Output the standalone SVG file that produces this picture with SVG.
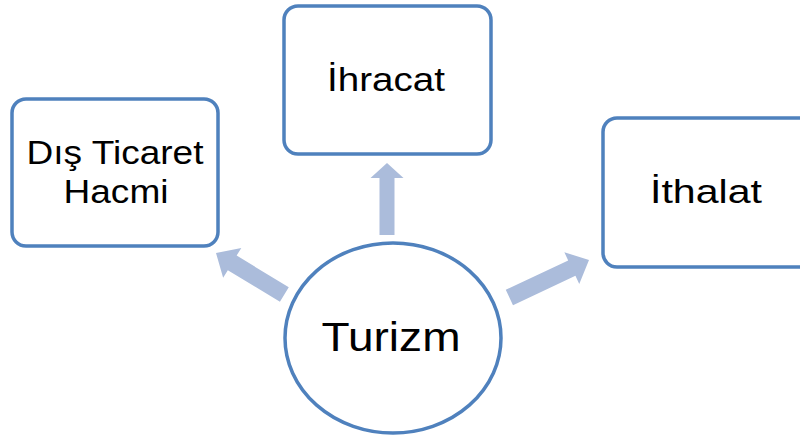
<svg xmlns="http://www.w3.org/2000/svg" width="800" height="441" viewBox="0 0 800 441">
<style>
.box{fill:#fff;stroke:#4f81bd;stroke-width:3.5}
.lbl{font-family:"Liberation Sans",Arial,sans-serif;fill:#000;text-anchor:middle}
.arr{fill:#abbcdb}
</style>
<rect width="800" height="441" fill="#fff"/>
<g id="connectors">
<polygon class="arr" transform="translate(387,163)" points="0,0 16.5,15 7.5,15 7.5,72 -7.5,72 -7.5,15 -16.5,15"/>
<polygon class="arr" transform="translate(216,253) rotate(-58.7)" points="0,0 17.5,19 8.5,19 8.5,80 -8.5,80 -8.5,19 -17.5,19"/>
<polygon class="arr" transform="translate(589,260) rotate(64.8)" points="0,0 17.5,19 8.5,19 8.5,88 -8.5,88 -8.5,19 -17.5,19"/>
</g>
<g id="dis-ticaret">
<rect class="box" x="12" y="99" width="206" height="147" rx="14"/>
<text class="lbl" x="115" y="164" font-size="34" textLength="177" lengthAdjust="spacingAndGlyphs">Dış Ticaret</text>
<text class="lbl" x="116" y="203" font-size="34" textLength="105" lengthAdjust="spacingAndGlyphs">Hacmi</text>
</g>
<g id="ihracat">
<rect class="box" x="284" y="6" width="207" height="148" rx="14"/>
<text class="lbl" x="386" y="91" font-size="34" textLength="118" lengthAdjust="spacingAndGlyphs">İhracat</text>
</g>
<g id="ithalat">
<rect class="box" x="603" y="118" width="215" height="149" rx="14"/>
<text class="lbl" x="706" y="203" font-size="34" textLength="112" lengthAdjust="spacingAndGlyphs">İthalat</text>
</g>
<g id="turizm">
<ellipse class="box" cx="393" cy="338" rx="108" ry="95"/>
<text class="lbl" x="391" y="351" font-size="41" textLength="139" lengthAdjust="spacingAndGlyphs">Turizm</text>
</g>
</svg>
